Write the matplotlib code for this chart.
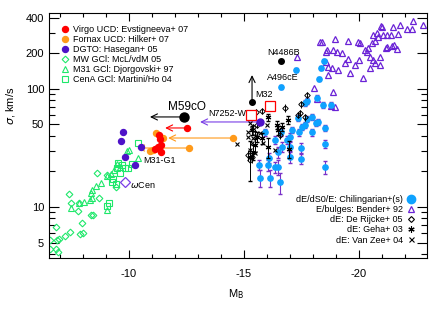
import matplotlib
matplotlib.use('Agg')
import matplotlib.pyplot as plt
from matplotlib.lines import Line2D
from matplotlib.ticker import FixedLocator, NullFormatter, LogLocator

plt.rcParams['font.family'] = ['Liberation Sans', 'DejaVu Sans']

# Virgo UCDs (Evstigneeva+07)
virgo_M = [-12.52, -11.30, -11.35, -11.39, -11.26, -11.13, -11.39]
virgo_sig = [46.7, 40.7, 37.7, 33.5, 32.2, 31.0, 29.2]
# Fornax UCDs (Hilker+07)
fornax_M = [-11.17, -11.48, -11.04, -10.91, -14.52, -12.61]
fornax_sig = [42.4, 38.4, 30.4, 29.8, 38.4, 31.6]
# DGTOs (Hasegan+05)
dgto_M = [-9.74, -9.65, -10.52, -9.83, -10.26]
dgto_sig = [43.2, 36.3, 32.2, 26.5, 22.7]
# MW globular clusters
mw_M = [-8.61, -7.39, -7.48, -7.83, -7.78, -7.96, -7.87, -8.00, -7.43, -7.22, -6.96,
        -6.87, -6.83, -6.57, -6.83, -6.91, -8.35, -8.43, -8.70, -9.04, -9.43, -6.55]
mw_sig = [19.4, 12.9, 10.8, 10.8, 9.25, 7.32, 5.90, 6.0, 6.14, 5.68, 5.36,
          5.25, 6.77, 4.41, 4.41, 4.16, 8.56, 8.56, 11.9, 18.7, 14.8, 5.25]
# M31 globular clusters
m31_M = [-7.48, -7.83, -8.04, -8.30, -8.39, -8.35, -8.39, -8.57, -8.78, -9.04, -9.04,
         -9.22, -9.35, -9.48, -9.61, -9.91, -10.00, -10.39]
m31_sig = [9.8, 10.8, 11.0, 11.5, 11.9, 13.1, 13.9, 15.1, 16.0, 9.4, 18.4,
           19.1, 20.6, 23.1, 21.9, 29.8, 30.4, 26.0]
# CenA globular clusters
cena_M = [-9.04, -9.13, -9.26, -9.30, -9.43, -9.48, -9.52, -9.61, -9.70, -9.83, -9.96, -10.13, -10.39]
cena_sig = [10.2, 10.8, 16.3, 17.3, 15.7, 21.4, 23.6, 19.4, 22.7, 21.4, 21.4, 23.1, 34.9]
# dE/dS0/E (Chilingarian+)
chil_M = [-18.48, -17.26, -18.35, -18.26, -16.61, -17.74, -17.65, -18.17, -18.43, -18.78,
          -17.96, -18.22, -18.13, -18.52, -17.96, -17.39, -17.74, -17.35, -17.09, -18.52,
          -17.00, -17.48, -15.91, -16.35, -16.61, -16.65, -16.48, -16.87, -17.00, -17.52,
          -17.65, -17.00, -17.48, -18.52, -15.65, -16.04, -16.35, -16.48, -15.70, -16.13,
          -16.57, -16.09]
chil_sig = [172.7, 145, 151, 121.5, 104, 79.1, 76.1, 84, 73.2, 73.2,
            57.9, 52.5, 51.5, 46.7, 43.2, 43.2, 55.7, 56.8, 45.0, 34.2,
            32.2, 31.6, 43.2, 37.0, 43.2, 32.2, 29.2, 37.0, 39.2, 47.6,
            49.5, 26.6, 25.5, 21.8, 22.7, 22.7, 21.8, 21.8, 17.6, 17.6,
            16.3, 26.0]
chil_err = [6, 5, 5, 5, 4, 4, 4, 4, 4, 4,
            3, 3, 3, 3, 3, 3, 3, 3, 3, 2.7,
            3, 3, 3, 3, 3, 3, 3, 3, 3, 3,
            3, 3, 2.5, 2.6, 2.3, 2.5, 2.3, 3, 2.9, 2.9,
            3.3, 2.5]
# E/bulges (Bender+92)
bender_M = [-17.30, -18.30, -18.39, -18.96, -19.52, -19.96, -18.57, -18.61, -18.87, -19.04,
            -19.26, -18.57, -18.65, -18.83, -19.09, -18.65, -19.39, -19.52, -19.61, -20.17,
            -19.83, -20.00, -20.04, -20.26, -20.35, -20.39, -20.48, -20.61, -20.70, -20.91,
            -20.48, -20.61, -20.78, -20.83, -21.00, -21.04, -21.22, -21.39, -21.70, -21.48,
            -21.78, -22.09, -22.30, -22.35, -22.78, -21.22, -21.43, -21.52, -21.65, -20.91,
            -20.70, -20.57, -18.04, -18.87, -18.96, -18.17, -18.78, -21.17, -20.96]
bender_sig = [187, 250, 250, 265, 255, 250, 206, 214, 214, 206,
              202, 169, 154, 151, 145, 131, 166, 180, 137, 124,
              160, 176, 245, 214, 206, 222, 187, 176, 166, 160,
              151, 287, 298, 276, 335, 287, 287, 287, 292, 335,
              349, 322, 322, 377, 349, 227, 232, 236, 218, 187,
              255, 245, 102, 94.3, 70.4, 82.3, 71.8, 222, 342]
# dE (De Rijcke+05)
dr_M = [-17.74, -17.48, -16.78, -17.35, -17.65, -15.78, -15.52,
        -15.39, -15.57, -15.48, -15.17, -15.35, -15.26, -16.57, -17.43]
dr_sig = [89.0, 74.6, 69.0, 60.2, 57.9, 65.1, 63.9,
          47.6, 49.5, 42.4, 27.6, 26.6, 25.0, 40.7, 62.6]
dr_err = [5, 5, 5, 4, 4, 4, 4, 3, 3, 3, 3, 3, 3, 3, 4]
# dE (Geha+03)
geha_M = [-16.04, -16.96, -16.04, -15.26, -16.65, -16.48, -15.35, -15.48, -15.57, -15.78,
          -15.39, -16.43, -16.91]
geha_sig = [57.9, 31.0, 32.2, 26.5, 47.6, 45.0, 45.0, 33.5, 39.2, 38.4,
            29.2, 49.5, 54.7]
geha_err = [4, 5, 6, 10, 4, 4, 4, 4, 4, 4, 4, 4, 4]
# dE (Van Zee+04)
vz_M = [-14.70, -15.17, -15.35, -15.26, -15.17, -15.39, -15.48, -15.26, -15.83, -16.35, -15.70, -16.00]
vz_sig = [34.2, 43.2, 34.8, 51.5, 39.2, 38.4, 28.7, 30.4, 34.8, 30.4, 42.4, 49.5]

# individual objects
m59co = (-12.39, 57.9)
n7252 = (-15.70, 52.5)
m32 = (-15.35, 77.6)
n4486b = (-16.61, 172.7)
omega_cen = (-9.83, 16.3)
red_box_M = [-16.13, -15.30]
red_box_sig = [71.8, 60.2]

# arrows: (start, end)
arrows = [
    (m59co, (-10.91, 57.9), 'black'),
    ((-12.52, 46.7), (-11.57, 46.7), 'red'),
    ((-14.52, 38.4), (-11.70, 38.4), '#ff9a1a'),
    ((-12.61, 31.6), (-10.35, 31.6), '#ff9a1a'),
    (n7252, (-13.09, 52.5), '#7a3ee6'),
    (m32, (-15.35, 131), 'black'),
]

RED = '#ff0000'
ORANGE = '#ff9a1a'
DGTO = '#4e12c8'
GREEN = '#1ee86a'
VIOLET = '#6a22d6'
CYAN = '#0ea2ff'

fig = plt.figure(figsize=(4.36, 3.11), dpi=100)
ax = fig.add_axes([0.1124, 0.1704, 0.867, 0.788])

for (x0, y0), (x1, y1), c in arrows:
    ax.annotate('', xy=(x1, y1), xytext=(x0, y0),
                arrowprops=dict(arrowstyle='->,head_length=0.45,head_width=0.22',
                                color=c, lw=0.8, shrinkA=0, shrinkB=0))

ax.plot(mw_M, mw_sig, 'D', ms=3.4, mfc='none', mec=GREEN, mew=0.8)
ax.plot(m31_M, m31_sig, '^', ms=4.3, mfc='none', mec=GREEN, mew=0.8)
ax.plot(cena_M, cena_sig, 's', ms=3.9, mfc='none', mec=GREEN, mew=0.8)

ax.plot(bender_M, bender_sig, '^', ms=4.8, mfc='none', mec=VIOLET, mew=0.9)

ax.errorbar(chil_M, chil_sig, yerr=chil_err, fmt='o', ms=3.8, color=CYAN,
            ecolor='#7a32c8', elinewidth=0.8, capsize=1.6, zorder=3)

ax.errorbar(dr_M, dr_sig, yerr=dr_err, fmt='D', ms=2.8, mfc='none', mec='black',
            mew=0.7, ecolor='black', elinewidth=0.7, capsize=0, zorder=4)
ax.errorbar(geha_M, geha_sig, yerr=geha_err, fmt='none', ecolor='black',
            elinewidth=0.7, capsize=1.2, zorder=4)
ax.plot(geha_M, geha_sig, ls='none', marker=(6, 2, 0), ms=4, mec='black', mew=0.8, zorder=4)
ax.plot(vz_M, vz_sig, 'x', ms=3.2, mec='black', mew=0.8, zorder=4)

ax.errorbar(red_box_M, red_box_sig, yerr=[5, 4], xerr=[0.15, 0.12], fmt='s', ms=7,
            mfc='white', mec=RED, mew=0.9, ecolor=RED, elinewidth=0.7, capsize=1.2, zorder=5)

ax.plot(fornax_M, fornax_sig, 'o', ms=4.3, color=ORANGE, zorder=6)
ax.plot(virgo_M, virgo_sig, 'o', ms=4.3, color=RED, zorder=6)
ax.plot(dgto_M, dgto_sig, 'o', ms=4.3, color=DGTO, zorder=6)
ax.plot(*n7252, 'o', ms=5, color=DGTO, zorder=6)
ax.plot(*m59co, 'o', ms=6.5, color='black', zorder=6)
ax.plot(*m32, 'o', ms=4, color='black', zorder=6)
ax.plot(*n4486b, 'o', ms=4, color='black', zorder=6)
ax.plot(*omega_cen, 'D', ms=5, mfc='none', mec='#7a3ee6', mew=0.9, zorder=6)

fs = 6.5
ax.text(-11.70, 70.4, 'M59cO', fontsize=8.5, ha='left', va='center')
ax.text(-13.43, 61.4, 'N7252-W3', fontsize=fs, ha='left', va='center')
ax.text(-15.48, 89, 'M32', fontsize=fs, ha='left', va='center')
ax.text(-16.0, 202, 'N4486B', fontsize=fs, ha='left', va='center')
ax.text(-16.0, 124, 'A496cE', fontsize=fs, ha='left', va='center')
ax.text(-10.61, 25.0, 'M31-G1', fontsize=fs, ha='left', va='center')
ax.text(-10.04, 15.4, r'$\omega$Cen', fontsize=fs, ha='left', va='center')

ax.set_yscale('log')
ax.set_xlim(-6.52, -22.96)
ax.set_ylim(3.7, 440)
ax.set_xticks([-10, -15, -20])
ax.set_xticklabels(['-10', '-15', '-20'])
ax.xaxis.set_minor_locator(FixedLocator(range(-22, -6)))
ax.yaxis.set_major_locator(FixedLocator([5, 10, 50, 100, 200, 400]))
ax.set_yticklabels(['5', '10', '50', '100', '200', '400'])
ax.yaxis.set_minor_locator(LogLocator(base=10, subs=range(1, 10)))
ax.yaxis.set_minor_formatter(NullFormatter())
ax.tick_params(which='both', direction='in', top=True, right=True, labelsize=8, width=0.8)
ax.tick_params(axis='y', which='major', length=7)
ax.tick_params(axis='y', which='minor', length=4)
ax.tick_params(axis='x', which='major', length=5.5)
ax.tick_params(axis='x', which='minor', length=3)
ax.tick_params(axis='x', pad=8)
for s in ax.spines.values():
    s.set_linewidth(0.8)

ax.set_xlabel(r'M$_{\rm B}$', fontsize=8)
ax.xaxis.set_label_coords(0.495, -0.12)
ax.set_ylabel(r'$\sigma$, km/s', fontsize=8)
ax.yaxis.set_label_coords(-0.085, 0.62)

h1 = [
    Line2D([], [], ls='none', marker='o', ms=4.3, color=RED),
    Line2D([], [], ls='none', marker='o', ms=4.3, color=ORANGE),
    Line2D([], [], ls='none', marker='o', ms=4.3, color=DGTO),
    Line2D([], [], ls='none', marker='D', ms=3.4, mfc='none', mec=GREEN, mew=0.8),
    Line2D([], [], ls='none', marker='^', ms=4.3, mfc='none', mec=GREEN, mew=0.8),
    Line2D([], [], ls='none', marker='s', ms=3.9, mfc='none', mec=GREEN, mew=0.8),
]
l1 = ['Virgo UCD: Evstigneeva+ 07', 'Fornax UCD: Hilker+ 07', 'DGTO: Hasegan+ 05',
      'MW GCl: McL/vdM 05', 'M31 GCl: Djorgovski+ 97', 'CenA GCl: Martini/Ho 04']
leg1 = ax.legend(h1, l1, loc='upper left', bbox_to_anchor=(0.033, 0.952), frameon=False,
                 fontsize=fs, handlelength=0.8, handletextpad=0.5, labelspacing=0.12,
                 borderpad=0, borderaxespad=0)
ax.add_artist(leg1)

h2 = [
    Line2D([], [], ls='none', marker='o', ms=6, color=CYAN),
    Line2D([], [], ls='none', marker='^', ms=4.8, mfc='none', mec=VIOLET, mew=0.9),
    Line2D([], [], ls='none', marker='D', ms=3, mfc='none', mec='black', mew=0.8),
    Line2D([], [], ls='none', marker=(6, 2, 0), ms=4.5, mec='black', mew=0.8),
    Line2D([], [], ls='none', marker='x', ms=3.6, mec='black', mew=0.8),
]
l2 = ['dE/dS0/E: Chilingarian+(s)', 'E/bulges: Bender+ 92', 'dE: De Rijcke+ 05',
      'dE: Geha+ 03', 'dE: Van Zee+ 04']
ax.legend(h2, l2, loc='lower right', bbox_to_anchor=(0.967, 0.055), frameon=False,
          fontsize=fs, handlelength=0.8, handletextpad=0.5, labelspacing=0.12,
          borderpad=0, borderaxespad=0, markerfirst=False)

fig.savefig('out.png', dpi=100)
